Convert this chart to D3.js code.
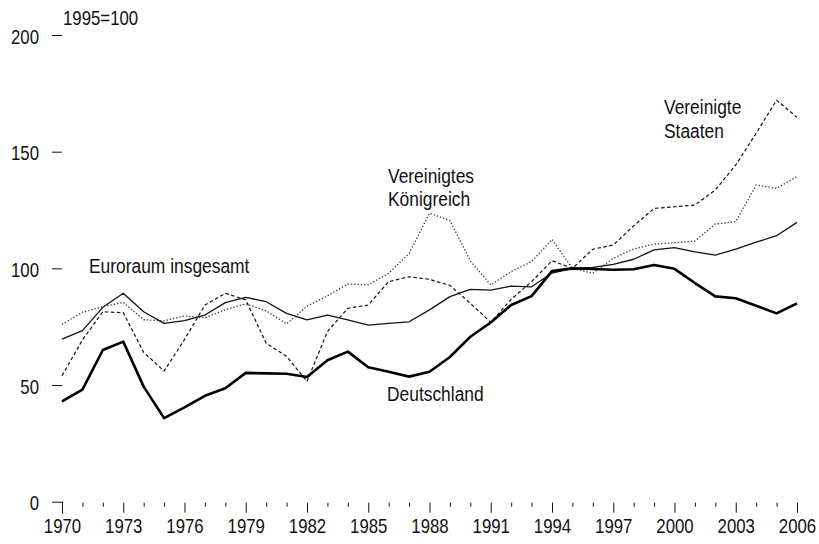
<!DOCTYPE html>
<meta charset="utf-8">
<style>
body { margin: 0; background: #fff; }
text { font-family: "Liberation Sans", Arial, sans-serif; fill: #111; }
</style>
<body>
<script src="https://cdn.jsdelivr.net/npm/d3@7"></script>
<script>
var years = d3.range(1970, 2007);

var deutschland = [43, 48, 65, 68.6, 49.3, 35.8, 40.4, 45.4, 48.6, 55.2, 55, 54.8, 53.4, 60.6, 64.3, 57.6, 55.7, 53.6, 55.7, 62, 70.7, 76.8, 84.3, 88.1, 98.8, 100, 99.7, 99.4, 99.6, 101.4, 99.8, 93.7, 88, 87.2, 84, 80.7, 85];
var euroraum = [69.7, 73.3, 83.3, 89.3, 81.4, 76.4, 77.6, 80, 85.3, 87.6, 85.7, 80.7, 77.9, 80, 77.9, 75.7, 76.4, 77.1, 82.2, 87.9, 91, 90.7, 92.4, 92.1, 98, 100, 100.4, 101.7, 103.9, 107.9, 108.9, 107.1, 105.7, 108.2, 111.2, 114, 119.7];
var vk = [76, 81.2, 83.6, 85.4, 78, 77.5, 79.6, 78.8, 82.3, 84.8, 81.8, 76.2, 83.8, 88.2, 93.3, 92.9, 97.9, 106.4, 123.6, 120.5, 103.2, 92.9, 98.6, 102.9, 112.4, 100, 97.9, 104.3, 108.3, 110.4, 111, 111.7, 119, 120, 135.7, 134.3, 139.3];
var usa = [54, 69.3, 81.4, 81, 64, 56, 69.5, 84.3, 89.3, 86.5, 67.9, 62.3, 51.5, 72.9, 82.9, 84.3, 94.3, 96.4, 95.3, 92.7, 85, 76.9, 86.7, 94.3, 103.3, 100, 108.2, 110, 118.2, 125.7, 126.4, 127.1, 133.6, 144.3, 157.9, 172.1, 164.7];

var yTicks = [0, 50, 100, 150, 200];
var xLabelYears = d3.range(1970, 2007, 3);

var width = 819, height = 544;
var numScale = 0.84, wordScale = 0.87;   // narrow look of the original font

var x = d3.scaleLinear().domain([1970, 2006]).range([62, 797]);
var y = d3.scaleLinear().domain([0, 200]).range([501.7, 35]);

var svg = d3.select("body").append("svg")
    .attr("width", width)
    .attr("height", height);

// y axis, ticks only
var yAxis = svg.append("g")
    .attr("transform", "translate(62,0)")
    .attr("font-family", null)
    .call(d3.axisLeft(y).tickValues(yTicks).tickSize(10).tickPadding(13));
yAxis.attr("font-family", null);
yAxis.select(".domain").remove();
yAxis.selectAll("line").attr("stroke", "#111");
yAxis.selectAll("text")
    .attr("font-size", 20)
    .attr("dy", "0.40em")
    .attr("x", function() { return +d3.select(this).attr("x") / numScale; })
    .attr("transform", "scale(" + numScale + ",1)");

// x axis, short ticks each year, longer every third year
var xAxis = svg.append("g")
    .attr("transform", "translate(0," + (y(0) + 1) + ")")
    .call(d3.axisBottom(x).tickValues(years).tickSize(10).tickPadding(6)
        .tickFormat(function(d) { return xLabelYears.indexOf(d) >= 0 ? d : ""; }));
xAxis.attr("font-family", null);
xAxis.select(".domain").remove();
xAxis.selectAll(".tick line")
    .attr("stroke", "#111")
    .attr("y2", function(d) { return xLabelYears.indexOf(d) >= 0 ? 10 : 4; });
xAxis.selectAll(".tick")
    .filter(function(d) { return d === 1970; })
    .select("line").attr("y1", -1).attr("y2", 11);
xAxis.selectAll("text")
    .attr("font-size", 20)
    .attr("dy", "0.71em")
    .attr("transform", "scale(" + numScale + ",1)");

var line = d3.line()
    .x(function(d, i) { return x(years[i]); })
    .y(function(d) { return y(d); });

var series = [
    {values: euroraum, width: 1.3, dash: null, color: "#111"},
    {values: vk, width: 1.3, dash: "1.3,2", color: "#333"},
    {values: usa, width: 1.2, dash: "3.5,2.5", color: "#111"},
    {values: deutschland, width: 2.6, dash: null, color: "#000"}
];

svg.append("g").selectAll("path")
    .data(series)
    .enter()
    .append("path")
    .attr("d", function(d) { return line(d.values); })
    .attr("fill", "none")
    .attr("stroke", function(d) { return d.color; })
    .attr("stroke-width", function(d) { return d.width; })
    .attr("stroke-dasharray", function(d) { return d.dash; })
    .attr("stroke-linejoin", "round");

// labels
var labels = svg.append("g").attr("font-size", 20);
function label(tx, ty, s, k) {
    labels.append("text")
        .attr("transform", "translate(" + tx + "," + ty + ") scale(" + k + ",1)")
        .text(s);
}
label(63, 25, "1995=100", numScale);
label(89, 273, "Euroraum insgesamt", wordScale);
label(388, 183, "Vereinigtes", wordScale);
label(388, 206, "Königreich", wordScale);
label(387, 401, "Deutschland", wordScale);
label(664, 114, "Vereinigte", wordScale);
label(664, 138, "Staaten", wordScale);
</script>
</body>
